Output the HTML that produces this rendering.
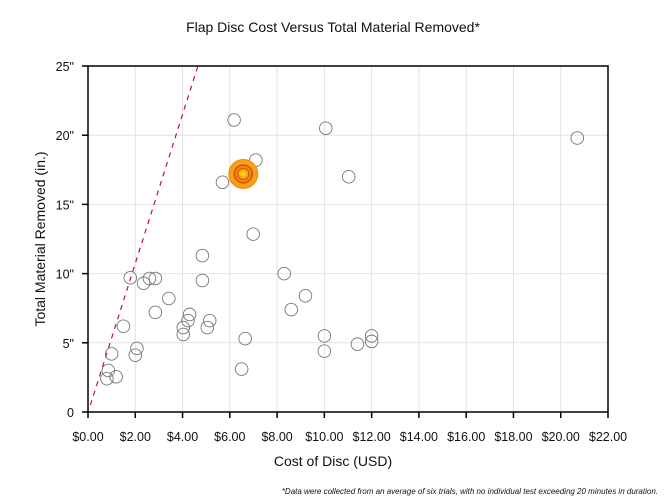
<!DOCTYPE html>
<html><head><meta charset="utf-8"><style>
html,body{margin:0;padding:0;background:#fff}
svg{display:block;font-family:"Liberation Sans",Arial,sans-serif}
</style></head><body>
<svg id="chart" width="666" height="500" viewBox="0 0 666 500" xmlns="http://www.w3.org/2000/svg">
<text x="333" y="32" text-anchor="middle" font-size="14" fill="#111">Flap Disc Cost Versus Total Material Removed*</text>
<g id="grid"></g>
<g id="trend"></g>
<g id="points"></g>
<g id="axes"></g>
<text x="333" y="466" text-anchor="middle" font-size="14" fill="#111">Cost of Disc (USD)</text>
<text transform="translate(45,239) rotate(-90)" text-anchor="middle" font-size="14" fill="#111">Total Material Removed (in.)</text>
<text x="658" y="494" text-anchor="end" font-size="8" font-style="italic" fill="#111">*Data were collected from an average of six trials, with no individual test exceeding 20 minutes in duration.</text>
</svg>
<script>
const costs = [0.8,0.86,1.0,1.19,1.5,1.79,2.0,2.07,2.35,2.6,2.85,2.85,3.42,4.03,4.03,4.23,4.3,4.84,4.84,5.05,5.15,5.69,6.18,6.5,6.65,6.99,7.1,8.3,8.6,9.2,10.06,10.0,10.0,11.03,11.4,12.0,12.0,20.7];
const removed = [2.4,3.0,4.2,2.55,6.2,9.7,4.1,4.6,9.3,9.65,9.65,7.2,8.2,5.6,6.1,6.6,7.05,11.3,9.5,6.1,6.6,16.6,21.1,3.1,5.3,12.85,18.2,10.0,7.4,8.4,20.5,5.5,4.4,17.0,4.9,5.5,5.1,19.8];
const highlight = [6.57,17.2];
const trendX = [0.1,4.65];
const trendY = [0.5,25];
const xTicks = [0,2,4,6,8,10,12,14,16,18,20,22];
const yTicks = [0,5,10,15,20,25];
const xLabels = ["$0.00","$2.00","$4.00","$6.00","$8.00","$10.00","$12.00","$14.00","$16.00","$18.00","$20.00","$22.00"];
const yLabels = ["0","5\"","10\"","15\"","20\"","25\""];

const L=88,R=608,T=66,B=412;
const xs=v=>L+(v/22)*(R-L);
const ys=v=>B-(v/25)*(B-T);
const NS="http://www.w3.org/2000/svg";
function mk(tag,attrs,parent){const e=document.createElementNS(NS,tag);for(const k in attrs)e.setAttribute(k,attrs[k]);parent.appendChild(e);return e;}
const grid=document.getElementById('grid'),axes=document.getElementById('axes'),pts=document.getElementById('points'),tr=document.getElementById('trend');
xTicks.forEach((t,i)=>{
 const g=mk('line',{x1:xs(t),x2:xs(t),y1:T,y2:B,stroke:'#e2e2e2','stroke-width':1},grid);
 
 
 const tk=mk('line',{x1:xs(t),x2:xs(t),y1:B,y2:B+6,stroke:'#000','stroke-width':1.5},axes);
 
 
 const lb=mk('text',{x:xs(t),y:B+29,'text-anchor':'middle','font-size':12.5,fill:'#111'},axes);
 lb.textContent=xLabels[i];
 
 
});
yTicks.forEach((t,i)=>{
 const g=mk('line',{x1:L,x2:R,y1:ys(t),y2:ys(t),stroke:'#e2e2e2','stroke-width':1},grid);
 
 
 const tk=mk('line',{x1:L-6,x2:L,y1:ys(t),y2:ys(t),stroke:'#000','stroke-width':1.5},axes);
 
 
 const lb=mk('text',{x:L-14,y:ys(t)+5,'text-anchor':'end','font-size':12.5,fill:'#111'},axes);
 lb.textContent=yLabels[i];
 
 
});
const fr=mk('rect',{x:L,y:T,width:R-L,height:B-T,fill:'none',stroke:'#000','stroke-width':1.5},axes);


const tl=mk('line',{x1:xs(trendX[0]),y1:ys(trendY[0]),x2:xs(trendX[1]),y2:ys(trendY[1]),stroke:'#c0142a','stroke-width':1.2,'stroke-dasharray':'5,5'},tr);


costs.forEach((c,i)=>{
 const p=mk('circle',{cx:xs(c),cy:ys(removed[i]),r:6.3,fill:'none',stroke:'#777','stroke-width':0.9},pts);
 
 
});
const hx=xs(highlight[0]),hy=ys(highlight[1]);
const hg=mk('g',{},pts);


mk('circle',{cx:hx,cy:hy,r:14.5,fill:'#f7a01a',stroke:'#f08a00','stroke-width':1},hg);
mk('circle',{cx:hx,cy:hy,r:9,fill:'#f08a00',stroke:'#d9500f','stroke-width':1.5},hg);
mk('circle',{cx:hx,cy:hy,r:5.5,fill:'#f3b10f',stroke:'#d9500f','stroke-width':1},hg);
mk('circle',{cx:hx,cy:hy,r:2.5,fill:'#f6d21a'},hg);
</script>
</body></html>
